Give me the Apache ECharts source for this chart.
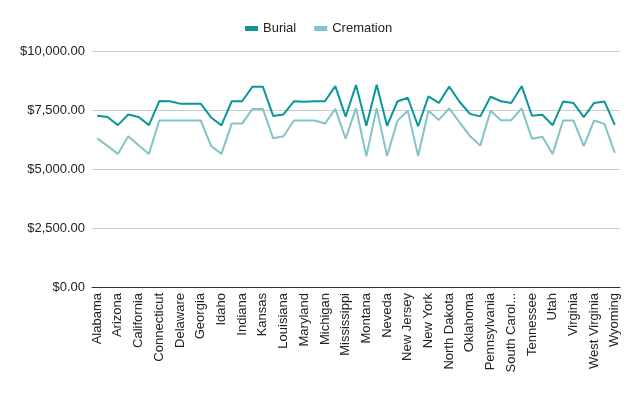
<!DOCTYPE html>
<html>
<head>
<meta charset="utf-8">
<script src="https://cdn.jsdelivr.net/npm/echarts@6/dist/echarts.min.js"></script>
<style>
  html, body { margin: 0; padding: 0; background: #fff; }
  #main { width: 640px; height: 396px; }
</style>
</head>
<body>
<div id="main"></div>
<script>
// 州名（51项，横轴隔一个显示）
var states = ['Alabama', 'Alaska', 'Arizona', 'Arkansas', 'California', 'Colorado', 'Connecticut',
    'District of Columbia', 'Delaware', 'Florida', 'Georgia', 'Hawaii', 'Idaho', 'Illinois', 'Indiana',
    'Iowa', 'Kansas', 'Kentucky', 'Louisiana', 'Maine', 'Maryland', 'Massachusetts', 'Michigan',
    'Minnesota', 'Mississippi', 'Missouri', 'Montana', 'Nebraska', 'Neveda', 'New Hampshire',
    'New Jersey', 'New Mexico', 'New York', 'North Carolina', 'North Dakota', 'Ohio', 'Oklahoma',
    'Oregon', 'Pennsylvania', 'Rhode Island', 'South Carolina', 'South Dakota', 'Tennessee', 'Texas',
    'Utah', 'Vermont', 'Virginia', 'Washington', 'West Virginia', 'Wisconsin', 'Wyoming'];

var burial = [7255, 7200, 6860, 7310, 7200, 6860, 7880, 7870, 7770, 7770, 7770, 7185, 6850, 7870, 7870,
    8490, 8490, 7250, 7310, 7870, 7850, 7870, 7870, 8510, 7220, 8560, 6830, 8570, 6830, 7860,
    8020, 6810, 8080, 7800, 8490, 7850, 7335, 7230, 8060, 7870, 7800, 8510, 7255, 7300, 6856,
    7856, 7800, 7200, 7800, 7856, 6870];

var cremation = [6300, 5980, 5640, 6385, 6010, 5640, 7055, 7055, 7055, 7055, 7055, 5980, 5640, 6925, 6925,
    7545, 7545, 6300, 6385, 7055, 7055, 7055, 6925, 7545, 6280, 7580, 5540, 7580, 5550, 7040,
    7470, 5550, 7470, 7080, 7570, 6980, 6400, 5990, 7470, 7070, 7070, 7570, 6280, 6370, 5630,
    7056, 7056, 5970, 7056, 6910, 5680];

var myChart = echarts.init(document.getElementById('main'));
myChart.setOption({
    animation: false,
    textStyle: {fontFamily: 'Liberation Sans, Arial, sans-serif'},
    legend: {
        top: 17,
        left: 240,
        itemWidth: 13,
        itemHeight: 5,
        itemGap: 18,
        icon: 'rect',
        textStyle: {fontSize: 13, color: '#222'},
        data: ['Burial', 'Cremation']
    },
    grid: {left: 92, right: 20, top: 51, bottom: 109},
    xAxis: {
        type: 'category',
        data: states,
        boundaryGap: true,
        axisTick: {show: false},
        axisLine: {lineStyle: {color: '#333', width: 1}},
        axisLabel: {
            rotate: 90, interval: 1, fontSize: 13, color: '#222', margin: 6,
            width: 84, overflow: 'truncate', ellipsis: '...'
        }
    },
    yAxis: {
        type: 'value',
        min: 0,
        max: 10000,
        interval: 2500,
        axisLabel: {
            fontSize: 13, color: '#222', margin: 7,
            formatter: function (v) {
                return '$' + v.toLocaleString('en-US', {minimumFractionDigits: 2, maximumFractionDigits: 2});
            }
        },
        splitLine: {lineStyle: {color: '#ccc'}}
    },
    series: [
        {
            name: 'Burial',
            type: 'line',
            data: burial,
            symbol: 'none',
            itemStyle: {color: '#0a979a'},
            lineStyle: {width: 2, color: '#0a979a'}
        },
        {
            name: 'Cremation',
            type: 'line',
            data: cremation,
            symbol: 'none',
            itemStyle: {color: '#84c4c6'},
            lineStyle: {width: 2, color: '#84c4c6'}
        }
    ]
});
</script>
</body>
</html>
